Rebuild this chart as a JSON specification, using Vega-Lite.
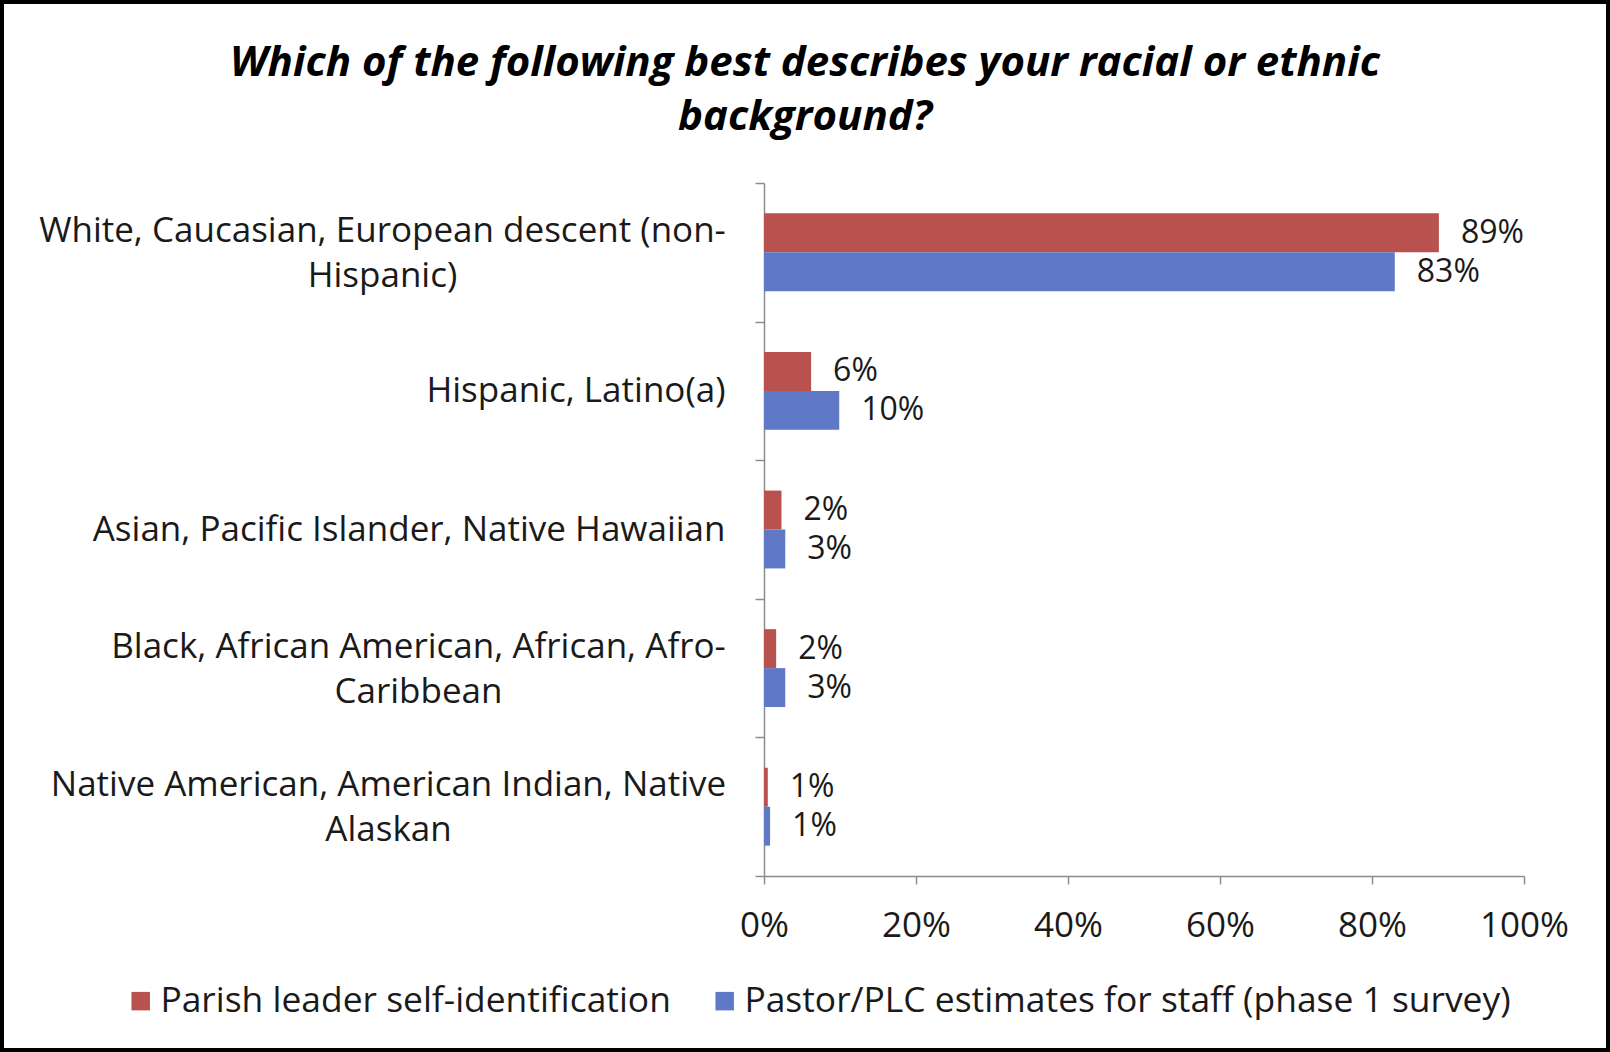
{
  "$schema": "https://vega.github.io/schema/vega-lite/v6.json",
  "width": 1610,
  "height": 1052,
  "autosize": {"type": "none"},
  "padding": 0,
  "background": "white",
  "config": {
    "font": "Open Sans",
    "view": {"stroke": "black", "strokeWidth": 8}
  },
  "title": {
    "text": ["Which of the following best describes your racial or ethnic", "background?"],
    "fontSize": 42,
    "fontStyle": "italic",
    "fontWeight": "bold",
    "font": "Open Sans",
    "color": "black",
    "anchor": "middle",
    "lineHeight": 54,
    "offset": -156
  },
  "data": {
    "values": [
      {"category": "White, Caucasian, European descent (non-Hispanic)", "series": "Parish leader self-identification", "value": 88.8, "label": "89%"},
      {"category": "White, Caucasian, European descent (non-Hispanic)", "series": "Pastor/PLC estimates for staff (phase 1 survey)", "value": 83, "label": "83%"},
      {"category": "Hispanic, Latino(a)", "series": "Parish leader self-identification", "value": 6.2, "label": "6%"},
      {"category": "Hispanic, Latino(a)", "series": "Pastor/PLC estimates for staff (phase 1 survey)", "value": 9.9, "label": "10%"},
      {"category": "Asian, Pacific Islander, Native Hawaiian", "series": "Parish leader self-identification", "value": 2.3, "label": "2%"},
      {"category": "Asian, Pacific Islander, Native Hawaiian", "series": "Pastor/PLC estimates for staff (phase 1 survey)", "value": 2.8, "label": "3%"},
      {"category": "Black, African American, African, Afro-Caribbean", "series": "Parish leader self-identification", "value": 1.6, "label": "2%"},
      {"category": "Black, African American, African, Afro-Caribbean", "series": "Pastor/PLC estimates for staff (phase 1 survey)", "value": 2.8, "label": "3%"},
      {"category": "Native American, American Indian, Native Alaskan", "series": "Parish leader self-identification", "value": 0.5, "label": "1%"},
      {"category": "Native American, American Indian, Native Alaskan", "series": "Pastor/PLC estimates for staff (phase 1 survey)", "value": 0.8, "label": "1%"}
    ]
  },
  "encoding": {
    "y": {
      "field": "category",
      "type": "nominal",
      "sort": [
        "White, Caucasian, European descent (non-Hispanic)",
        "Hispanic, Latino(a)",
        "Asian, Pacific Islander, Native Hawaiian",
        "Black, African American, African, Afro-Caribbean",
        "Native American, American Indian, Native Alaskan"
      ],
      "scale": {"range": [183, 876], "paddingInner": 0, "paddingOuter": 0},
      "axis": {
        "title": null,
        "offset": -764,
        "domainColor": "#8c8c8c",
        "domainWidth": 1.5,
        "tickColor": "#8c8c8c",
        "tickWidth": 1.5,
        "tickSize": 9,
        "tickBand": "extent",
        "labelFontSize": 35,
        "labelColor": "#1a1a1a",
        "labelLineHeight": 45,
        "labelLimit": 900,
        "labelAlign": {
          "condition": {"test": "datum.value != 'Hispanic, Latino(a)' && datum.value != 'Asian, Pacific Islander, Native Hawaiian'", "value": "center"},
          "value": "right"
        },
        "labelPadding": {
          "condition": [
            {"test": "datum.value == 'White, Caucasian, European descent (non-Hispanic)'", "value": 373},
            {"test": "datum.value == 'Black, African American, African, Afro-Caribbean'", "value": 337},
            {"test": "datum.value == 'Native American, American Indian, Native Alaskan'", "value": 367}
          ],
          "value": 30
        },
        "labelOffset": {
          "condition": {"test": "datum.value != 'Hispanic, Latino(a)' && datum.value != 'Asian, Pacific Islander, Native Hawaiian'", "value": -22},
          "value": 0
        },
        "labelExpr": "datum.value == 'White, Caucasian, European descent (non-Hispanic)' ? ['White, Caucasian, European descent (non-', 'Hispanic)'] : datum.value == 'Black, African American, African, Afro-Caribbean' ? ['Black, African American, African, Afro-', 'Caribbean'] : datum.value == 'Native American, American Indian, Native Alaskan' ? ['Native American, American Indian, Native', 'Alaskan'] : datum.value"
      }
    },
    "yOffset": {
      "field": "series",
      "sort": ["Parish leader self-identification", "Pastor/PLC estimates for staff (phase 1 survey)"],
      "scale": {"paddingInner": 0, "paddingOuter": 0.78}
    },
    "x": {
      "field": "value",
      "type": "quantitative",
      "scale": {"domain": [0, 100], "range": [764, 1524]},
      "axis": {
        "title": null,
        "offset": -176,
        "values": [0, 20, 40, 60, 80, 100],
        "labelExpr": "datum.value + '%'",
        "labelFlush": false,
        "grid": false,
        "domainColor": "#8c8c8c",
        "domainWidth": 1.5,
        "tickColor": "#8c8c8c",
        "tickWidth": 1.5,
        "tickSize": 8,
        "labelPadding": 24,
        "labelFontSize": 35,
        "labelColor": "#1a1a1a"
      }
    }
  },
  "layer": [
    {
      "mark": {"type": "bar"},
      "encoding": {
        "color": {
          "field": "series",
          "type": "nominal",
          "sort": ["Parish leader self-identification", "Pastor/PLC estimates for staff (phase 1 survey)"],
          "scale": {"range": ["#b9524f", "#6079c6"]},
          "legend": {
            "title": null,
            "orient": "none",
            "legendX": 123,
            "legendY": 983,
            "direction": "horizontal",
            "symbolType": "square",
            "symbolSize": 342,
            "symbolStrokeWidth": 0,
            "labelFontSize": 35.4,
            "labelColor": "#1a1a1a",
            "labelOffset": 2,
            "labelLimit": 1000,
            "columnPadding": 36
          }
        }
      }
    },
    {
      "mark": {"type": "text", "align": "left", "baseline": "middle", "dx": 22, "fontSize": 32, "color": "#1a1a1a"},
      "encoding": {"text": {"field": "label"}}
    }
  ]
}
